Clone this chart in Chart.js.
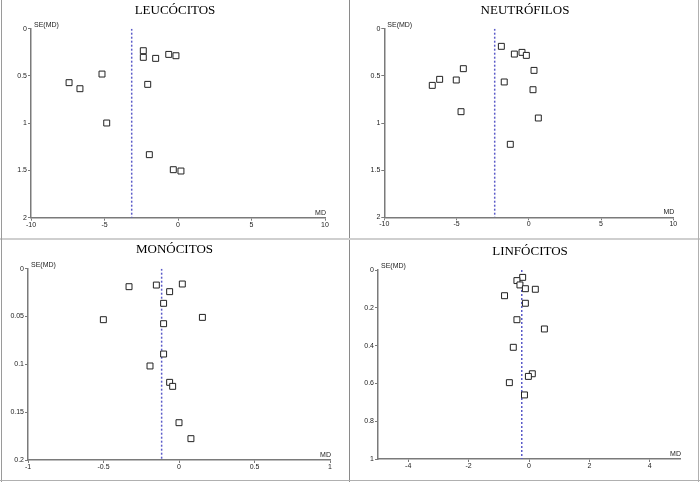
<!DOCTYPE html>
<html>
<head>
<meta charset="utf-8">
<script src="https://cdn.jsdelivr.net/npm/chart.js@4"></script>
<style>
  body { margin: 0; background: #fff; }
  #wrap { position: relative; width: 700px; height: 482px; overflow: hidden; }
  .panel { position: absolute; }
  .line { position: absolute; }
</style>
</head>
<body>
<div id="wrap">
  <div class="panel" style="left:0;top:0"><canvas id="c1" width="349" height="238"></canvas></div>
  <div class="panel" style="left:350px;top:0"><canvas id="c2" width="349" height="238"></canvas></div>
  <div class="panel" style="left:0;top:240px"><canvas id="c3" width="349" height="242"></canvas></div>
  <div class="panel" style="left:350px;top:240px"><canvas id="c4" width="349" height="242"></canvas></div>
  <div class="line" style="left:349px;top:0;width:1px;height:482px;background:#8a8a8a"></div>
  <div class="line" style="left:0;top:238px;width:700px;height:2px;background:#cfcfcf"></div>
  <div class="line" style="left:1px;top:0;width:1px;height:482px;background:#9a9a9a"></div>
  <div class="line" style="left:0;top:480px;width:700px;height:1px;background:#b0b0b0"></div>
  <div class="line" style="left:698px;top:0;width:1px;height:482px;background:#b0b0b0"></div>
</div>
<script>
// LEUCÓCITOS
const leuMD = [-2.36, -2.36, -1.52, -0.63, -0.14, -5.17, -7.41, -6.67, -2.06, -4.85, -1.95, -0.32, 0.2];
const leuSE = [0.233, 0.303, 0.314, 0.272, 0.286, 0.48, 0.571, 0.635, 0.589, 0.998, 1.333, 1.492, 1.506];
const leuPooled = -3.15;

// NEUTRÓFILOS
const neuMD = [-1.9, -1.0, -0.47, -0.17, 0.36, -4.53, -6.17, -5.02, -6.68, -1.7, 0.29, -4.69, 0.66, -1.28];
const neuSE = [0.187, 0.269, 0.251, 0.283, 0.442, 0.424, 0.537, 0.544, 0.601, 0.565, 0.647, 0.88, 0.947, 1.226];
const neuPooled = -2.36;

// MONÓCITOS
const monMD = [-0.331, -0.15, 0.022, -0.062, -0.102, -0.501, 0.155, -0.102, -0.102, -0.192, -0.062, -0.042, 0.0, 0.079];
const monSE = [0.0188, 0.0171, 0.016, 0.024, 0.0362, 0.0533, 0.0509, 0.0575, 0.0892, 0.1017, 0.1188, 0.123, 0.161, 0.1777];
const monPooled = -0.115;

// LINFÓCITOS
const linMD = [-0.21, -0.4, -0.3, -0.12, 0.21, -0.81, -0.12, -0.4, 0.51, -0.52, 0.11, -0.02, -0.65, -0.15];
const linSE = [0.039, 0.056, 0.079, 0.099, 0.102, 0.136, 0.176, 0.263, 0.312, 0.409, 0.549, 0.563, 0.596, 0.661];
const linPooled = -0.24;

const xTicksWide = [-10, -5, 0, 5, 10];
const xTicksMon = [-1, -0.5, 0, 0.5, 1];
const xTicksLin = [-4, -2, 0, 2, 4];
const yTicksWide = [0, 0.5, 1, 1.5, 2];
const yTicksMon = [0, 0.05, 0.1, 0.15, 0.2];
const yTicksLin = [0, 0.2, 0.4, 0.6, 0.8, 1];

const panels = [
  { id: "c1", title: "LEUCÓCITOS", md: leuMD, se: leuSE, pooled: leuPooled,
    xMin: -10, xMax: 10, xTicks: xTicksWide, yMax: 2, yTicks: yTicksWide,
    left: 31, right: 325, top: 28.7, bottom: 217.7, titleX: 175, titleY: 14 },
  { id: "c2", title: "NEUTRÓFILOS", md: neuMD, se: neuSE, pooled: neuPooled,
    xMin: -10, xMax: 10, xTicks: xTicksWide, yMax: 2, yTicks: yTicksWide,
    left: 34.3, right: 323.3, top: 28.7, bottom: 217.3, titleX: 175, titleY: 14 },
  { id: "c3", title: "MONÓCITOS", md: monMD, se: monSE, pooled: monPooled,
    xMin: -1, xMax: 1, xTicks: xTicksMon, yMax: 0.2, yTicks: yTicksMon,
    left: 28, right: 330, top: 28.7, bottom: 220, titleX: 174.5, titleY: 12.7 },
  { id: "c4", title: "LINFÓCITOS", md: linMD, se: linSE, pooled: linPooled,
    xMin: -5, xMax: 5, xTicks: xTicksLin, yMax: 1, yTicks: yTicksLin,
    left: 28, right: 330, top: 30, bottom: 219, titleX: 180, titleY: 15.3 }
];

// titulos y etiquetas de ejes
const textPlugin = {
  id: "textos",
  afterDraw(chart, args, opts) {
    const { ctx, chartArea } = chart;
    ctx.save();
    ctx.fillStyle = "#000";
    ctx.font = "13px 'Liberation Serif'";
    ctx.textAlign = "center";
    ctx.textBaseline = "alphabetic";
    ctx.fillText(opts.title, opts.titleX, opts.titleY);
    ctx.font = "7px 'Liberation Sans'";
    ctx.fillStyle = "#222";
    ctx.textAlign = "left";
    ctx.fillText("SE(MD)", chartArea.left + 3, chartArea.top - 2);
    ctx.textAlign = "right";
    ctx.fillText("MD", chartArea.right + 1, chartArea.bottom - 3);
    ctx.restore();
  }
};

function renderPanel(p) {
  const canvas = document.getElementById(p.id);
  const points = p.md.map((x, i) => ({ x: x, y: p.se[i] }));
  const axisColor = "#7a7a7a";
  const tickFont = { family: "'Liberation Sans'", size: 7 };

  new Chart(canvas, {
    type: "scatter",
    data: {
      datasets: [
        {
          data: points,
          pointStyle: "rect",
          pointRadius: 4.2,
          pointBorderWidth: 1,
          pointBorderColor: "#222",
          pointBackgroundColor: "#fff"
        },
        {
          type: "line",
          data: [{ x: p.pooled, y: 0 }, { x: p.pooled, y: p.yMax }],
          borderColor: "#5a5ac8",
          borderWidth: 1.5,
          borderDash: [2, 2],
          pointRadius: 0
        }
      ]
    },
    options: {
      responsive: false,
      animation: false,
      devicePixelRatio: 1,
      layout: { padding: { left: 0, top: p.top, right: canvas.width - p.right, bottom: 0 } },
      plugins: {
        legend: { display: false },
        tooltip: { enabled: false },
        textos: { title: p.title, titleX: p.titleX, titleY: p.titleY }
      },
      scales: {
        x: {
          type: "linear",
          min: p.xMin,
          max: p.xMax,
          afterBuildTicks: (s) => { s.ticks = p.xTicks.map((v) => ({ value: v })); },
          afterFit: (s) => { s.height = canvas.height - p.bottom; },
          border: { color: axisColor, width: 1.5 },
          grid: { drawOnChartArea: false, drawTicks: true, tickLength: 3, color: axisColor },
          ticks: { font: tickFont, color: "#222", padding: 0, maxRotation: 0, autoSkip: false,
                   callback: (v) => String(v) }
        },
        y: {
          type: "linear",
          reverse: true,
          min: 0,
          max: p.yMax,
          afterBuildTicks: (s) => { s.ticks = p.yTicks.map((v) => ({ value: v })); },
          afterFit: (s) => { s.width = p.left; },
          border: { color: axisColor, width: 1.5 },
          grid: { drawOnChartArea: false, drawTicks: true, tickLength: 3, color: axisColor },
          ticks: { font: tickFont, color: "#222", padding: 1, autoSkip: false,
                   callback: (v) => String(v) }
        }
      }
    },
    plugins: [textPlugin]
  });
}

panels.forEach(renderPanel);
</script>
</body>
</html>
